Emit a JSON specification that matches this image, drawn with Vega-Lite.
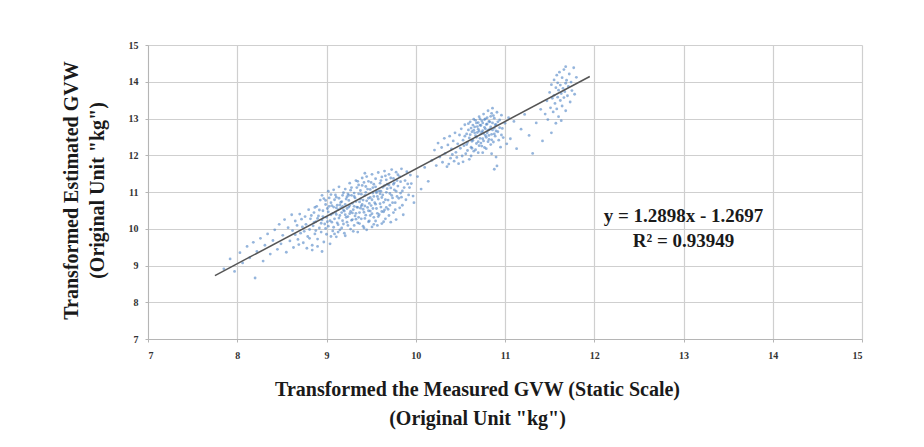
{
  "$schema": "https://vega.github.io/schema/vega-lite/v6.json",
  "width": 714,
  "height": 294,
  "autosize": {"type": "none"},
  "padding": {"left": 148, "top": 45, "right": 62, "bottom": 108},
  "background": "white",
  "config": {
    "view": {"stroke": null},
    "axis": {
      "gridColor": "#cfcfcf",
      "gridWidth": 1.2,
      "domainColor": "#b5b5b5",
      "tickColor": "#b5b5b5",
      "tickSize": 3,
      "labelFont": "Liberation Serif",
      "labelFontSize": 10,
      "labelFontWeight": "bold",
      "labelColor": "#333333",
      "labelOverlap": false,
      "titleFont": "Liberation Serif",
      "titleFontSize": 20,
      "titleFontWeight": "bold",
      "titleColor": "#1a1a1a"
    }
  },
  "datasets": {
    "points": [
      {"x":8.62,"y":9.95},{"x":8.65,"y":10.21},{"x":8.68,"y":9.71},{"x":8.70,"y":10.40},{"x":8.71,"y":9.88},{"x":8.73,"y":10.05},{"x":8.74,"y":9.62},{"x":8.76,"y":10.33},{"x":8.77,"y":10.12},{"x":8.79,"y":9.79},
      {"x":8.80,"y":10.52},{"x":8.81,"y":9.98},{"x":8.82,"y":10.27},{"x":8.84,"y":9.55},{"x":8.85,"y":10.08},{"x":8.86,"y":10.44},{"x":8.87,"y":9.86},{"x":8.88,"y":10.19},{"x":8.89,"y":10.61},{"x":8.90,"y":9.72},
      {"x":8.91,"y":10.35},{"x":8.92,"y":10.02},{"x":8.93,"y":10.78},{"x":8.94,"y":9.91},{"x":8.95,"y":10.24},{"x":8.96,"y":10.49},{"x":8.97,"y":9.64},{"x":8.98,"y":10.13},{"x":8.99,"y":10.66},{"x":9.00,"y":10.31},
      {"x":9.00,"y":9.85},{"x":9.01,"y":10.55},{"x":9.02,"y":10.07},{"x":9.03,"y":10.84},{"x":9.04,"y":9.59},{"x":9.05,"y":10.38},{"x":9.05,"y":10.71},{"x":9.06,"y":10.18},{"x":9.07,"y":9.94},{"x":9.08,"y":10.59},
      {"x":9.09,"y":10.27},{"x":9.10,"y":10.92},{"x":9.10,"y":10.45},{"x":9.11,"y":9.78},{"x":9.12,"y":10.64},{"x":9.13,"y":10.11},{"x":9.14,"y":10.83},{"x":9.15,"y":10.36},{"x":9.15,"y":9.97},{"x":9.16,"y":10.57},
      {"x":9.17,"y":10.74},{"x":9.18,"y":10.22},{"x":9.19,"y":10.98},{"x":9.20,"y":10.48},{"x":9.20,"y":9.88},{"x":9.21,"y":10.66},{"x":9.22,"y":10.31},{"x":9.23,"y":10.87},{"x":9.24,"y":10.09},{"x":9.25,"y":10.59},
      {"x":9.25,"y":10.77},{"x":9.26,"y":10.41},{"x":9.27,"y":11.05},{"x":9.28,"y":10.23},{"x":9.29,"y":10.69},{"x":9.30,"y":10.52},{"x":9.30,"y":9.93},{"x":9.31,"y":10.88},{"x":9.32,"y":10.35},{"x":9.33,"y":10.74},
      {"x":9.34,"y":11.12},{"x":9.35,"y":10.58},{"x":9.35,"y":10.16},{"x":9.36,"y":10.95},{"x":9.37,"y":10.44},{"x":9.38,"y":10.81},{"x":9.39,"y":10.27},{"x":9.40,"y":10.66},{"x":9.40,"y":11.18},{"x":9.41,"y":10.53},
      {"x":9.42,"y":10.02},{"x":9.43,"y":10.91},{"x":9.44,"y":10.37},{"x":9.45,"y":10.76},{"x":9.46,"y":11.08},{"x":9.47,"y":10.49},{"x":9.48,"y":10.21},{"x":9.49,"y":10.85},{"x":9.50,"y":10.63},{"x":9.50,"y":11.26},
      {"x":9.51,"y":10.41},{"x":9.52,"y":10.97},{"x":9.53,"y":10.12},{"x":9.54,"y":10.71},{"x":9.55,"y":11.14},{"x":9.56,"y":10.55},{"x":9.57,"y":10.88},{"x":9.58,"y":10.33},{"x":9.59,"y":11.03},{"x":9.60,"y":10.68},
      {"x":9.61,"y":11.31},{"x":9.62,"y":10.47},{"x":9.63,"y":10.92},{"x":9.64,"y":10.19},{"x":9.65,"y":11.17},{"x":9.66,"y":10.79},{"x":9.67,"y":10.58},{"x":9.68,"y":11.09},{"x":9.70,"y":10.36},{"x":9.71,"y":10.96},
      {"x":9.72,"y":11.38},{"x":9.74,"y":10.71},{"x":9.75,"y":11.21},{"x":9.77,"y":10.52},{"x":9.78,"y":11.02},{"x":9.80,"y":11.47},{"x":9.81,"y":10.83},{"x":9.83,"y":11.28},{"x":9.85,"y":10.64},{"x":9.87,"y":11.12},
      {"x":9.90,"y":11.55},{"x":9.92,"y":10.92},
      {"x":9.02,"y":10.46},{"x":9.04,"y":10.22},{"x":9.06,"y":10.63},{"x":9.08,"y":10.04},{"x":9.09,"y":10.79},{"x":9.11,"y":10.39},{"x":9.12,"y":10.16},{"x":9.13,"y":10.52},{"x":9.14,"y":10.29},{"x":9.16,"y":10.72},
      {"x":9.17,"y":10.44},{"x":9.18,"y":10.61},{"x":9.19,"y":10.13},{"x":9.21,"y":10.38},{"x":9.22,"y":10.81},{"x":9.23,"y":10.55},{"x":9.24,"y":10.33},{"x":9.26,"y":10.63},{"x":9.27,"y":10.47},{"x":9.28,"y":10.91},
      {"x":9.29,"y":10.25},{"x":9.31,"y":10.61},{"x":9.32,"y":10.84},{"x":9.33,"y":10.42},{"x":9.34,"y":10.59},{"x":9.36,"y":10.31},{"x":9.37,"y":10.73},{"x":9.38,"y":10.56},{"x":9.39,"y":10.94},{"x":9.41,"y":10.78},
      {"x":9.42,"y":10.45},{"x":9.43,"y":10.62},{"x":9.44,"y":10.99},{"x":9.46,"y":10.58},{"x":9.47,"y":10.83},{"x":9.48,"y":10.69},{"x":9.49,"y":10.36},{"x":9.51,"y":10.79},{"x":9.52,"y":10.55},{"x":9.53,"y":10.88},
      {"x":9.55,"y":10.67},{"x":9.56,"y":10.98},{"x":9.57,"y":10.42},{"x":9.58,"y":10.81},{"x":9.60,"y":10.95},{"x":9.61,"y":10.59},{"x":9.62,"y":10.85},{"x":9.64,"y":10.72},{"x":9.65,"y":10.51},{"x":9.67,"y":10.99},
      {"x":9.69,"y":10.78},{"x":9.70,"y":11.19},{"x":9.73,"y":10.91},{"x":9.76,"y":11.06},{"x":9.79,"y":10.88},{"x":8.83,"y":10.36},{"x":8.86,"y":10.17},{"x":8.88,"y":9.95},{"x":8.90,"y":10.28},{"x":8.92,"y":10.51},
      {"x":8.94,"y":10.15},{"x":8.96,"y":10.33},{"x":8.97,"y":10.82},{"x":8.99,"y":10.01},{"x":9.01,"y":10.19},{"x":9.03,"y":10.61},{"x":9.05,"y":9.79},{"x":9.07,"y":10.42},{"x":9.09,"y":9.86},{"x":9.11,"y":10.57},
      {"x":9.13,"y":9.91},{"x":9.15,"y":10.65},{"x":9.17,"y":10.02},{"x":9.19,"y":10.51},{"x":9.21,"y":9.81},{"x":9.23,"y":10.18},{"x":9.25,"y":10.91},{"x":9.27,"y":9.99},{"x":9.29,"y":10.43},{"x":9.31,"y":10.09},
      {"x":9.33,"y":10.26},{"x":9.35,"y":9.91},{"x":9.37,"y":10.14},{"x":9.39,"y":10.62},{"x":9.41,"y":10.07},{"x":9.43,"y":10.28},{"x":9.45,"y":9.97},{"x":9.47,"y":10.19},{"x":9.49,"y":10.48},{"x":9.51,"y":10.05},
      {"x":9.53,"y":10.31},{"x":9.55,"y":10.21},{"x":9.57,"y":10.09},{"x":9.59,"y":10.38},{"x":9.62,"y":10.14},{"x":9.64,"y":10.46},{"x":9.66,"y":10.27},{"x":9.69,"y":10.53},{"x":9.72,"y":10.18},{"x":9.75,"y":10.44},
      {"x":9.78,"y":10.25},{"x":9.82,"y":10.57},{"x":9.86,"y":10.38},
      {"x":9.28,"y":11.12},{"x":9.31,"y":10.97},{"x":9.33,"y":11.31},{"x":9.36,"y":11.19},{"x":9.38,"y":11.04},{"x":9.40,"y":11.38},{"x":9.42,"y":11.26},{"x":9.44,"y":11.15},{"x":9.45,"y":11.42},{"x":9.47,"y":11.29},
      {"x":9.49,"y":11.07},{"x":9.51,"y":11.48},{"x":9.53,"y":11.21},{"x":9.55,"y":11.36},{"x":9.56,"y":11.02},{"x":9.58,"y":11.53},{"x":9.60,"y":11.24},{"x":9.62,"y":11.41},{"x":9.63,"y":11.13},{"x":9.65,"y":11.57},
      {"x":9.67,"y":11.33},{"x":9.68,"y":11.21},{"x":9.70,"y":11.48},{"x":9.72,"y":11.11},{"x":9.73,"y":11.61},{"x":9.75,"y":11.37},{"x":9.76,"y":11.25},{"x":9.78,"y":11.54},{"x":9.80,"y":11.16},{"x":9.82,"y":11.42},
      {"x":9.84,"y":11.63},{"x":9.85,"y":11.03},{"x":9.88,"y":11.31},{"x":9.91,"y":11.22},{"x":9.94,"y":11.46},{"x":9.05,"y":10.93},{"x":9.08,"y":11.06},{"x":9.11,"y":10.86},{"x":9.14,"y":11.14},{"x":9.18,"y":10.91},
      {"x":9.21,"y":11.08},{"x":9.24,"y":10.95},{"x":9.26,"y":11.24},{"x":8.95,"y":10.91},{"x":8.99,"y":10.77},{"x":9.02,"y":11.02},{"x":9.35,"y":11.29},{"x":9.43,"y":11.51},{"x":9.52,"y":11.12},{"x":9.61,"y":11.02},
      {"x":9.66,"y":11.44},{"x":9.74,"y":10.84},{"x":9.79,"y":11.31},{"x":9.83,"y":10.97},{"x":9.89,"y":10.79},{"x":9.93,"y":11.12},{"x":9.97,"y":10.89},{"x":9.71,"y":10.64},{"x":9.77,"y":10.71},{"x":9.84,"y":10.86},
      {"x":7.85,"y":8.91},{"x":7.92,"y":9.18},{"x":7.97,"y":8.84},{"x":8.03,"y":9.35},{"x":8.06,"y":9.07},{"x":8.11,"y":9.52},{"x":8.14,"y":9.21},{"x":8.18,"y":9.63},{"x":8.20,"y":8.66},{"x":8.22,"y":9.38},
      {"x":8.26,"y":9.74},{"x":8.29,"y":9.12},{"x":8.31,"y":9.55},{"x":8.34,"y":9.86},{"x":8.37,"y":9.31},{"x":8.40,"y":9.68},{"x":8.42,"y":9.97},{"x":8.45,"y":9.44},{"x":8.47,"y":10.12},{"x":8.49,"y":9.59},
      {"x":8.51,"y":9.82},{"x":8.53,"y":10.25},{"x":8.55,"y":9.36},{"x":8.57,"y":10.03},{"x":8.59,"y":9.67},{"x":8.61,"y":10.38},{"x":8.63,"y":9.49},{"x":8.65,"y":9.84},{"x":8.67,"y":10.09},{"x":8.69,"y":9.57},
      {"x":8.72,"y":10.26},{"x":8.75,"y":9.93},{"x":8.78,"y":9.47},{"x":8.81,"y":9.74},{"x":8.84,"y":9.42},{"x":8.87,"y":10.58},{"x":8.90,"y":9.52},{"x":8.95,"y":9.38},
      {"x":9.95,"y":11.23},{"x":9.98,"y":10.71},{"x":10.02,"y":11.42},{"x":10.06,"y":11.08},{"x":10.10,"y":11.67},{"x":10.14,"y":11.29},
      {"x":10.18,"y":11.86},{"x":10.21,"y":12.14},{"x":10.23,"y":11.72},{"x":10.25,"y":12.33},{"x":10.27,"y":11.95},{"x":10.29,"y":12.21},{"x":10.30,"y":11.81},{"x":10.32,"y":12.46},{"x":10.33,"y":12.05},{"x":10.35,"y":11.69},
      {"x":10.36,"y":12.28},{"x":10.38,"y":12.52},{"x":10.39,"y":11.92},{"x":10.40,"y":12.17},{"x":10.42,"y":12.39},{"x":10.43,"y":11.84},{"x":10.44,"y":12.61},{"x":10.45,"y":12.08},{"x":10.47,"y":12.31},{"x":10.48,"y":11.77},
      {"x":10.49,"y":12.55},{"x":10.50,"y":12.19},{"x":10.51,"y":12.72},{"x":10.52,"y":11.98},{"x":10.53,"y":12.41},{"x":10.54,"y":12.26},{"x":10.55,"y":12.83},{"x":10.56,"y":12.04},{"x":10.57,"y":12.58},{"x":10.58,"y":12.35},
      {"x":10.59,"y":12.69},{"x":10.60,"y":11.89},{"x":10.60,"y":12.47},{"x":10.61,"y":12.91},{"x":10.62,"y":12.22},{"x":10.63,"y":12.64},{"x":10.64,"y":12.41},{"x":10.65,"y":12.98},{"x":10.65,"y":12.11},{"x":10.66,"y":12.77},
      {"x":10.67,"y":12.53},{"x":10.68,"y":12.32},{"x":10.68,"y":12.88},{"x":10.69,"y":12.62},{"x":10.70,"y":12.07},{"x":10.70,"y":12.71},{"x":10.71,"y":13.05},{"x":10.72,"y":12.46},{"x":10.72,"y":12.82},{"x":10.73,"y":12.58},
      {"x":10.74,"y":12.25},{"x":10.74,"y":12.94},{"x":10.75,"y":12.67},{"x":10.76,"y":13.12},{"x":10.76,"y":12.39},{"x":10.77,"y":12.76},{"x":10.78,"y":12.54},{"x":10.78,"y":12.99},{"x":10.79,"y":12.18},{"x":10.80,"y":12.85},
      {"x":10.80,"y":12.61},{"x":10.81,"y":13.21},{"x":10.82,"y":12.43},{"x":10.82,"y":12.92},{"x":10.83,"y":12.71},{"x":10.84,"y":12.29},{"x":10.84,"y":13.06},{"x":10.85,"y":12.57},{"x":10.86,"y":12.88},{"x":10.86,"y":13.28},
      {"x":10.87,"y":12.36},{"x":10.88,"y":12.74},{"x":10.88,"y":13.01},{"x":10.89,"y":12.52},{"x":10.90,"y":11.95},{"x":10.90,"y":12.83},{"x":10.91,"y":13.17},{"x":10.92,"y":12.64},{"x":10.93,"y":12.41},{"x":10.94,"y":12.96},
      {"x":10.95,"y":12.22},{"x":10.96,"y":13.09},{"x":10.97,"y":12.73},{"x":10.98,"y":12.48},{"x":11.00,"y":12.87},{"x":11.02,"y":12.31},{"x":11.04,"y":13.02},
      {"x":10.55,"y":12.52},{"x":10.57,"y":12.29},{"x":10.59,"y":12.86},{"x":10.61,"y":12.56},{"x":10.62,"y":12.74},{"x":10.63,"y":12.38},{"x":10.64,"y":12.82},{"x":10.66,"y":12.61},{"x":10.67,"y":12.95},{"x":10.68,"y":12.49},
      {"x":10.69,"y":12.78},{"x":10.70,"y":12.37},{"x":10.71,"y":12.66},{"x":10.72,"y":12.99},{"x":10.73,"y":12.81},{"x":10.74,"y":12.63},{"x":10.75,"y":12.45},{"x":10.75,"y":12.88},{"x":10.76,"y":12.59},{"x":10.77,"y":12.97},
      {"x":10.78,"y":12.72},{"x":10.79,"y":12.49},{"x":10.80,"y":13.02},{"x":10.81,"y":12.68},{"x":10.82,"y":12.54},{"x":10.83,"y":12.91},{"x":10.84,"y":12.77},{"x":10.85,"y":12.42},{"x":10.86,"y":12.69},{"x":10.87,"y":13.08},
      {"x":10.88,"y":12.58},{"x":10.89,"y":12.83},{"x":10.90,"y":12.66},{"x":10.92,"y":12.91},{"x":10.94,"y":12.75},{"x":10.96,"y":12.55},{"x":10.65,"y":12.68},{"x":10.70,"y":12.89},{"x":10.73,"y":12.33},{"x":10.77,"y":12.21},
      {"x":10.79,"y":12.84},{"x":10.81,"y":12.37},{"x":10.85,"y":13.14},{"x":10.58,"y":12.13},{"x":10.63,"y":12.19},{"x":10.67,"y":12.15},{"x":10.71,"y":12.26},{"x":10.62,"y":11.98},{"x":10.75,"y":12.07},{"x":10.85,"y":12.04},
      {"x":10.91,"y":11.71},{"x":10.88,"y":11.62},{"x":10.46,"y":11.94},{"x":10.53,"y":11.82},{"x":10.41,"y":12.02},{"x":10.37,"y":11.76},
      {"x":11.06,"y":12.45},{"x":11.10,"y":12.92},{"x":11.13,"y":12.18},{"x":11.18,"y":12.71},{"x":11.22,"y":13.11},{"x":11.27,"y":12.54},{"x":11.31,"y":12.05},{"x":11.35,"y":12.88},{"x":11.40,"y":13.25},{"x":11.42,"y":12.39},
      {"x":11.45,"y":13.12},{"x":11.47,"y":13.48},{"x":11.48,"y":12.97},{"x":11.50,"y":13.71},{"x":11.51,"y":13.29},{"x":11.52,"y":13.92},{"x":11.53,"y":13.55},{"x":11.54,"y":13.18},{"x":11.55,"y":14.05},{"x":11.55,"y":13.63},
      {"x":11.56,"y":13.41},{"x":11.57,"y":13.84},{"x":11.58,"y":13.26},{"x":11.58,"y":14.18},{"x":11.59,"y":13.58},{"x":11.60,"y":13.77},{"x":11.60,"y":13.05},{"x":11.61,"y":14.26},{"x":11.62,"y":13.49},{"x":11.62,"y":13.91},
      {"x":11.63,"y":13.68},{"x":11.64,"y":14.11},{"x":11.64,"y":13.34},{"x":11.65,"y":13.82},{"x":11.66,"y":13.57},{"x":11.66,"y":14.33},{"x":11.67,"y":13.73},{"x":11.68,"y":13.96},{"x":11.68,"y":13.21},{"x":11.69,"y":14.04},
      {"x":11.70,"y":13.62},{"x":11.71,"y":13.87},{"x":11.72,"y":14.21},{"x":11.73,"y":13.45},{"x":11.74,"y":13.99},{"x":11.75,"y":13.76},{"x":11.77,"y":14.38},{"x":11.78,"y":13.66},{"x":11.80,"y":14.12},{"x":11.57,"y":12.87},
      {"x":11.63,"y":12.94},{"x":11.52,"y":12.61},{"x":11.68,"y":14.41},{"x":11.59,"y":13.97}
    ],
    "fit": [
      {"x": 7.75, "y": 8.7263},
      {"x": 11.95, "y": 14.1434}
    ],
    "eq": [
      {"x": 13.0, "y": 10.36, "label": "y = 1.2898x - 1.2697"},
      {"x": 13.0, "y": 9.68, "label": "R² = 0.93949"}
    ]
  },
  "encoding": {
    "x": {
      "field": "x", "type": "quantitative",
      "scale": {"domain": [7, 15], "nice": false, "zero": false},
      "axis": {
        "values": [7, 8, 9, 10, 11, 12, 13, 14, 15],
        "format": "d",
        "labelOverlap": false,
        "labelPadding": 8,
        "title": ["Transformed the Measured GVW (Static Scale)", "(Original Unit \"kg\")"],
        "titleX": 329,
        "titleY": 40,
        "titleBaseline": "top",
        "titleLineHeight": 29
      }
    },
    "y": {
      "field": "y", "type": "quantitative",
      "scale": {"domain": [7, 15], "nice": false, "zero": false},
      "axis": {
        "values": [7, 8, 9, 10, 11, 12, 13, 14, 15],
        "format": "d",
        "labelOverlap": false,
        "labelPadding": 7,
        "title": ["Transformed Estimated GVW", "(Original Unit \"kg\")"],
        "titleX": -67,
        "titleY": 145,
        "titleAngle": -90,
        "titleBaseline": "bottom",
        "titleLineHeight": 26
      }
    }
  },
  "layer": [
    {
      "data": {"name": "points"},
      "mark": {"type": "point", "filled": true, "size": 8, "color": "#4f83c4", "opacity": 0.6, "shape": "circle"}
    },
    {
      "data": {"name": "fit"},
      "mark": {"type": "line", "color": "#555555", "strokeWidth": 1.5}
    },
    {
      "data": {"name": "eq"},
      "mark": {"type": "text", "font": "Liberation Serif", "fontSize": 19, "fontWeight": "bold", "color": "#1a1a1a", "align": "center", "baseline": "middle"},
      "encoding": {
        "text": {"field": "label"}
      }
    }
  ]
}
